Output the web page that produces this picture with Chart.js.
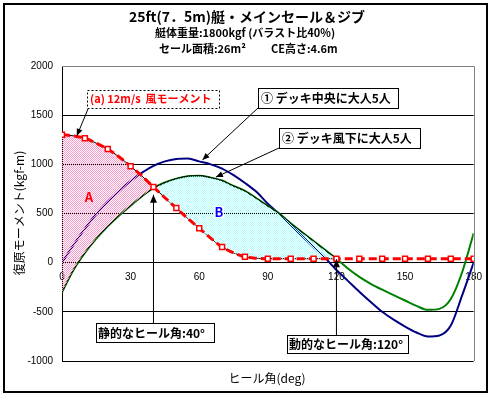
<!DOCTYPE html>
<html>
<head>
<meta charset="utf-8">
<script src="https://cdn.jsdelivr.net/npm/chart.js@4.4.0/dist/chart.umd.min.js"></script>
<style>
  body { margin: 0; background: #fff; }
  canvas { display: block; }
</style>
</head>
<body>
<canvas id="myChart" width="491" height="396"></canvas>
<script>
// heel angle (deg)
var angles = [0, 5, 10, 15, 20, 25, 30, 35, 40, 45, 50, 55, 60, 65, 70, 75, 80, 85, 90,
  95, 100, 105, 110, 115, 120, 125, 130, 135, 140, 145, 150, 155, 160, 165, 170, 175, 180];
// ① デッキ中央に大人5人
var center5 = [0, 180, 345, 495, 620, 730, 830, 915, 985, 1030, 1055, 1060, 1030, 1000, 957, 890, 810, 720, 600,
  495, 385, 270, 160, 50, -75, -185, -295, -400, -500, -580, -650, -710, -750, -740, -640, -330, 0];
// ② デッキ風下に大人5人
var leeward5 = [-300, -75, 100, 245, 370, 480, 580, 675, 760, 815, 855, 880, 885, 865, 835, 780, 730, 655, 577,
  500, 400, 310, 220, 130, 40, -60, -145, -215, -275, -330, -385, -440, -480, -470, -370, -95, 300];
// (a) 12m/s 風モーメント
var windMoment = [1300, 1290, 1265, 1215, 1155, 1075, 980, 880, 770, 660, 555, 450, 350, 250, 160, 100, 60, 45, 40,
  40, 40, 40, 40, 40, 40, 40, 40, 40, 40, 40, 40, 40, 40, 40, 40, 40, 40];
var xTicks = [0, 30, 60, 90, 120, 150, 180];
var yTicks = [-1000, -500, 0, 500, 1000, 1500, 2000];
var staticAngle = 40;
var dynamicAngle = 120;

function pts(ys, from, to) {
  return angles.map(function (a, i) { return { x: a, y: ys[i] }; })
    .filter(function (p) { return p.x >= from && p.x <= to; });
}

function checker(color) {
  var c = document.createElement("canvas");
  c.width = 2; c.height = 2;
  var g = c.getContext("2d");
  g.fillStyle = color;
  g.fillRect(0, 0, 1, 1);
  g.fillRect(1, 1, 1, 1);
  return g.createPattern(c, "repeat");
}
var pink = checker("#ff99cc");
var cyan = checker("#aaffff");

var jp = '"Noto Sans CJK JP", sans-serif';

var annotate = {
  id: "annotate",
  afterDraw: function (chart) {
    var c = chart.ctx, xs = chart.scales.x, ys = chart.scales.y, a = chart.chartArea;
    function px(v) { return xs.getPixelForValue(v); }
    function py(v) { return ys.getPixelForValue(v); }
    function text(s, x, y, font, color, align) {
      c.font = font; c.fillStyle = color; c.textAlign = align || "center"; c.textBaseline = "middle";
      c.fillText(s, x, y);
    }
    function box(x, y, w, h, dash) {
      c.fillStyle = "#fff"; c.fillRect(x, y, w, h);
      c.setLineDash(dash || []); c.strokeStyle = "#000"; c.lineWidth = 1;
      c.strokeRect(x + 0.5, y + 0.5, w, h); c.setLineDash([]);
    }
    function arrow(x1, y1, x2, y2, len, wid) {
      c.strokeStyle = "#000"; c.fillStyle = "#000"; c.lineWidth = 1;
      c.beginPath(); c.moveTo(x1, y1); c.lineTo(x2, y2); c.stroke();
      var t = Math.atan2(y2 - y1, x2 - x1);
      c.beginPath(); c.moveTo(x2, y2);
      c.lineTo(x2 - len * Math.cos(t) + wid * Math.sin(t), y2 - len * Math.sin(t) - wid * Math.cos(t));
      c.lineTo(x2 - len * Math.cos(t) - wid * Math.sin(t), y2 - len * Math.sin(t) + wid * Math.cos(t));
      c.closePath(); c.fill();
    }
    c.save();
    // plot frame top / right
    c.strokeStyle = "#808080"; c.lineWidth = 1;
    c.beginPath();
    c.moveTo(a.left, Math.round(a.top) + 0.5);
    c.lineTo(Math.round(a.right) + 0.5, Math.round(a.top) + 0.5);
    c.lineTo(Math.round(a.right) + 0.5, a.bottom);
    c.stroke();

    // titles
    text("25ft(7．5m)艇・メインセール＆ジブ", 247, 17, "bold 14px " + jp, "#000");
    text("艇体重量:1800kgf (バラスト比40%)", 245, 33, "bold 11px " + jp, "#000");
    text("セール面積:26m²", 159, 49, "bold 11px " + jp, "#000", "left");
    text("CE高さ:4.6m", 271, 49, "bold 11px " + jp, "#000", "left");

    // axis titles
    text("ヒール角(deg)", 267, 378, "12px " + jp, "#000");
    c.save();
    c.translate(19, 213); c.rotate(-Math.PI / 2);
    text("復原モーメント(kgf-m)", 0, 0, "12px " + jp, "#000");
    c.restore();

    // area labels
    text("A", 89, 197, "bold 13px " + jp, "#ff0000");
    c.fillStyle = "#fff"; c.fillRect(214, 206, 10, 12);
    text("B", 219, 212, "bold 13px " + jp, "#0000ff");

    // (a) wind moment label
    box(87, 90, 132, 18, [2, 2]);
    text("(a) 12m/s  風モーメント", 90, 99, "bold 11px " + jp, "#ff0000", "left");
    arrow(88, 109, px(6.5), py(1290), 7, 3);

    // ① label
    box(258, 88, 140, 20);
    text("① デッキ中央に大人5人", 261, 98, "bold 12px " + jp, "#000", "left");
    arrow(258, 108, px(61.4), py(1045), 7, 3);

    // ② label
    box(279, 128, 141, 20);
    text("② デッキ風下に大人5人", 282, 138, "bold 12px " + jp, "#000", "left");
    arrow(279, 148, px(67.3), py(870), 7, 3);

    // static heel angle
    arrow(px(staticAngle), 323, px(staticAngle), py(690), 8, 3.5);
    box(96, 323, 118, 19);
    text("静的なヒール角:40°", 98, 333, "bold 12px " + jp, "#000", "left");

    // dynamic heel angle
    arrow(px(dynamicAngle), 335, px(dynamicAngle), py(35), 8, 3.5);
    box(287, 335, 121, 18);
    text("動的なヒール角:120°", 289, 344, "bold 12px " + jp, "#000", "left");

    // outer frame
    c.strokeStyle = "#000"; c.lineWidth = 2;
    c.strokeRect(4, 4, 483, 388);
    c.restore();
  }
};

var ctx = document.getElementById("myChart").getContext("2d");
var chart = new Chart(ctx, {
  type: "line",
  data: {
    datasets: [
      {
        label: "(a) 12m/s 風モーメント",
        data: pts(windMoment, 0, 180),
        borderColor: "#ff0000",
        borderWidth: 3,
        borderDash: [8, 4],
        pointStyle: "rect",
        pointRadius: function (c) { return c.dataIndex % 2 === 0 ? 3.5 : 0; },
        pointBackgroundColor: "#fff",
        pointBorderColor: "#ff0000",
        pointBorderWidth: 1.5,
        fill: false,
        order: 0
      },
      {
        label: "A上",
        data: pts(windMoment, 0, staticAngle),
        borderColor: "#000",
        borderWidth: 1,
        pointRadius: 0,
        fill: { target: 2, above: pink, below: pink },
        order: 1
      },
      {
        label: "A下",
        data: pts(leeward5, 0, staticAngle),
        borderColor: "#000",
        borderWidth: 1,
        pointRadius: 0,
        fill: false,
        order: 1
      },
      {
        label: "B上",
        data: pts(leeward5, staticAngle, dynamicAngle),
        borderColor: "#000",
        borderWidth: 1,
        pointRadius: 0,
        fill: { target: 4, above: cyan, below: cyan },
        order: 1
      },
      {
        label: "B下",
        data: pts(windMoment, staticAngle, dynamicAngle),
        borderColor: "#000",
        borderWidth: 1,
        pointRadius: 0,
        fill: false,
        order: 1
      },
      {
        label: "② デッキ風下に大人5人",
        data: pts(leeward5, 0, 180),
        borderColor: "#008000",
        borderWidth: 2,
        pointRadius: 0,
        fill: false,
        order: 2
      },
      {
        label: "① デッキ中央に大人5人",
        data: pts(center5, 0, 180),
        borderColor: "#000080",
        borderWidth: 2,
        pointRadius: 0,
        fill: false,
        order: 3
      }
    ]
  },
  options: {
    responsive: false,
    animation: false,
    devicePixelRatio: 1,
    layout: { padding: { top: 66, left: 0, right: 15, bottom: 35 } },
    plugins: { legend: { display: false }, tooltip: { enabled: false } },
    elements: { line: { cubicInterpolationMode: "monotone" } },
    scales: {
      x: {
        type: "linear",
        position: { y: 0 },
        min: 0,
        max: 180,
        afterBuildTicks: function (s) { s.ticks = xTicks.map(function (v) { return { value: v }; }); },
        grid: { display: false, drawTicks: false },
        border: { display: true, color: "#000" },
        ticks: {
          padding: 9, maxRotation: 0, color: "#000",
          font: { family: "Liberation Sans", size: 10 },
          callback: function (v) { return String(v); }
        }
      },
      y: {
        type: "linear",
        min: -1000,
        max: 2000,
        afterBuildTicks: function (s) { s.ticks = yTicks.map(function (v) { return { value: v }; }); },
        afterFit: function (s) { s.width = 62; },
        grid: {
          drawTicks: false,
          color: function (c) { return c.tick && c.tick.value === 2000 ? "#808080" : "#000"; }
        },
        border: { display: true, color: "#000" },
        ticks: {
          padding: 9, color: "#000",
          font: { family: "Liberation Sans", size: 10 },
          callback: function (v) { return String(v); }
        }
      }
    }
  },
  plugins: [annotate]
});
</script>
</body>
</html>
